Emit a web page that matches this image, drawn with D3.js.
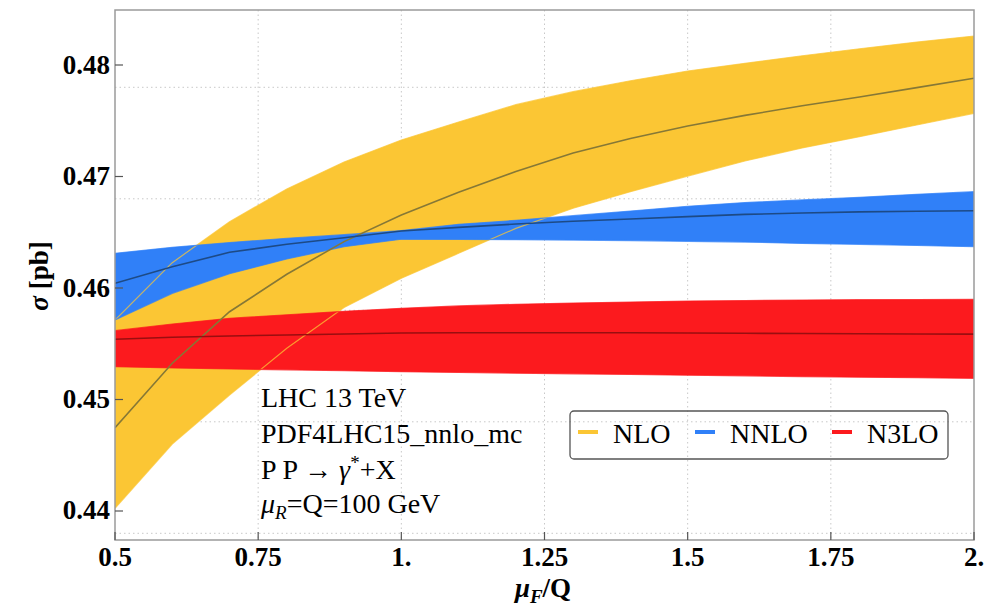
<!DOCTYPE html>
<html>
<head>
<meta charset="utf-8">
<script src="https://cdn.jsdelivr.net/npm/d3@7"></script>
<style>
  body { margin: 0; background: #fff; }
  svg { display: block; }
  text { font-family: "Liberation Serif", "Times New Roman", serif; fill: #000; }
</style>
</head>
<body>
<main></main>
<script>
const width = 1007;
const height = 611;
const plot = { left: 115, right: 974, top: 10, bottom: 540 };

// mu_F / Q sample points
const mu = [0.5, 0.6, 0.7, 0.8, 0.9, 1.0, 1.1, 1.2, 1.3, 1.4, 1.5, 1.6, 1.7, 1.8, 1.9, 2.0];

const nloCentral = [0.44747, 0.45325, 0.45787, 0.46123, 0.46416, 0.46655, 0.46858, 0.47045, 0.47210, 0.47340, 0.47453, 0.47548, 0.47634, 0.47713, 0.47797, 0.47881];
const nloUpper   = [0.45713, 0.46227, 0.46595, 0.46888, 0.47130, 0.47327, 0.47489, 0.47644, 0.47761, 0.47859, 0.47946, 0.48015, 0.48083, 0.48146, 0.48206, 0.48260];
const nloLower   = [0.44024, 0.44601, 0.45040, 0.45460, 0.45825, 0.46087, 0.46311, 0.46535, 0.46715, 0.46864, 0.47004, 0.47139, 0.47256, 0.47357, 0.47462, 0.47567];

const nnloCentral = [0.46042, 0.46191, 0.46320, 0.46392, 0.46451, 0.46511, 0.46544, 0.46574, 0.46598, 0.46619, 0.46640, 0.46660, 0.46673, 0.46683, 0.46689, 0.46693];
const nnloUpper   = [0.46311, 0.46365, 0.46407, 0.46446, 0.46478, 0.46514, 0.46571, 0.46607, 0.46649, 0.46690, 0.46733, 0.46766, 0.46790, 0.46813, 0.46840, 0.46864];
const nnloLower   = [0.45713, 0.45952, 0.46128, 0.46260, 0.46370, 0.46437, 0.46436, 0.46433, 0.46430, 0.46425, 0.46419, 0.46412, 0.46400, 0.46392, 0.46381, 0.46370];

const n3loCentral = [0.45540, 0.45558, 0.45570, 0.45578, 0.45587, 0.45596, 0.45598, 0.45599, 0.45599, 0.45598, 0.45596, 0.45594, 0.45592, 0.45590, 0.45588, 0.45586];
const n3loUpper   = [0.45617, 0.45677, 0.45728, 0.45760, 0.45791, 0.45818, 0.45839, 0.45854, 0.45865, 0.45874, 0.45883, 0.45888, 0.45892, 0.45895, 0.45897, 0.45899];
const n3loLower   = [0.45294, 0.45283, 0.45274, 0.45266, 0.45258, 0.45250, 0.45242, 0.45236, 0.45230, 0.45224, 0.45218, 0.45212, 0.45206, 0.45200, 0.45195, 0.45190];

const xTicks = [0.5, 0.75, 1.0, 1.25, 1.5, 1.75, 2.0];
const xTickLabels = ['0.5', '0.75', '1.', '1.25', '1.5', '1.75', '2.'];
const yTicks = [0.44, 0.45, 0.46, 0.47, 0.48];
const yTickLabels = ['0.44', '0.45', '0.46', '0.47', '0.48'];
const xGrid = [0.75, 1.0, 1.25, 1.5, 1.75];
const yGrid = [0.438, 0.448, 0.458, 0.468, 0.478];

const seriesNames = ['NLO', 'NNLO', 'N3LO'];
const fillColors = ['#fbc634', '#3080f8', '#fc1a1e'];
const lineColors = ['#867836', '#1d4a86', '#9a0e10'];

const series = [
    { central: nloCentral, upper: nloUpper, lower: nloLower },
    { central: nnloCentral, upper: nnloUpper, lower: nnloLower },
    { central: n3loCentral, upper: n3loUpper, lower: n3loLower }
];

const xScale = d3.scaleLinear().domain([0.5, 2.0]).range([plot.left, plot.right]);
const yScale = d3.scaleLinear().domain([0.437399, 0.484933]).range([plot.bottom, plot.top]);

const svg = d3.select('main')
              .append('svg')
              .attr('width', width)
              .attr('height', height);

svg.append('clipPath')
   .attr('id', 'clip')
   .append('rect')
   .attr('x', plot.left)
   .attr('y', plot.top)
   .attr('width', plot.right - plot.left)
   .attr('height', plot.bottom - plot.top);

// dotted grid
const grid = svg.append('g').attr('stroke', '#c8c8c8').attr('stroke-width', 1).attr('stroke-dasharray', '1.5,3');
grid.selectAll('.vgrid')
    .data(xGrid)
    .enter()
    .append('line')
    .attr('x1', (d) => xScale(d))
    .attr('x2', (d) => xScale(d))
    .attr('y1', plot.top)
    .attr('y2', plot.bottom);
grid.selectAll('.hgrid')
    .data(yGrid)
    .enter()
    .append('line')
    .attr('x1', plot.left)
    .attr('x2', plot.right)
    .attr('y1', (d) => yScale(d))
    .attr('y2', (d) => yScale(d));

const area = (s) => d3.area()
    .x((d, i) => xScale(mu[i]))
    .y0((d, i) => yScale(s.lower[i]))
    .y1((d, i) => yScale(s.upper[i]));

const line = d3.line()
    .x((d, i) => xScale(mu[i]))
    .y((d) => yScale(d));

const bands = svg.append('g').attr('clip-path', 'url(#clip)');

series.forEach((s, k) => {
    bands.append('path')
         .datum(s.central)
         .attr('d', area(s))
         .attr('fill', fillColors[k]);
});

// band edges, drawn over all fills
series.forEach((s, k) => {
    [s.upper, s.lower].forEach((edge) => {
        bands.append('path')
             .datum(edge)
             .attr('d', line)
             .attr('fill', 'none')
             .attr('stroke', fillColors[k])
             .attr('stroke-opacity', 0.75)
             .attr('stroke-width', 1.2);
    });
});

series.forEach((s, k) => {
    bands.append('path')
         .datum(s.central)
         .attr('d', line)
         .attr('fill', 'none')
         .attr('stroke', lineColors[k])
         .attr('stroke-width', 1.6);
});

// frame
svg.append('rect')
   .attr('x', plot.left)
   .attr('y', plot.top)
   .attr('width', plot.right - plot.left)
   .attr('height', plot.bottom - plot.top)
   .attr('fill', 'none')
   .attr('stroke', '#9a9a9a')
   .attr('stroke-width', 1.5);

// ticks (inward)
svg.selectAll('.xtick')
   .data(xTicks)
   .enter()
   .append('line')
   .attr('x1', (d) => xScale(d))
   .attr('x2', (d) => xScale(d))
   .attr('y1', plot.bottom)
   .attr('y2', plot.bottom - 8)
   .attr('stroke', '#555')
   .attr('stroke-width', 1.2);

svg.selectAll('.ytick')
   .data(yTicks)
   .enter()
   .append('line')
   .attr('x1', plot.left)
   .attr('x2', plot.left + 8)
   .attr('y1', (d) => yScale(d))
   .attr('y2', (d) => yScale(d))
   .attr('stroke', '#555')
   .attr('stroke-width', 1.2);

svg.selectAll('.xlabel')
   .data(xTicks)
   .enter()
   .append('text')
   .attr('x', (d) => xScale(d))
   .attr('y', 566)
   .attr('text-anchor', 'middle')
   .attr('font-size', 27)
   .attr('font-weight', 'bold')
   .text((d, i) => xTickLabels[i]);

svg.selectAll('.ylabel')
   .data(yTicks)
   .enter()
   .append('text')
   .attr('x', 110)
   .attr('y', (d) => yScale(d) + 8.5)
   .attr('text-anchor', 'end')
   .attr('font-size', 27)
   .attr('font-weight', 'bold')
   .text((d, i) => yTickLabels[i]);

// axis titles
const xTitle = svg.append('text')
   .attr('x', 543)
   .attr('y', 597)
   .attr('text-anchor', 'middle')
   .attr('font-size', 27)
   .attr('font-weight', 'bold');
xTitle.append('tspan').attr('font-style', 'italic').text('μ');
xTitle.append('tspan').attr('font-style', 'italic').attr('font-size', 19).attr('dy', 6).text('F');
xTitle.append('tspan').attr('dy', -6).text('/Q');

const yTitle = svg.append('text')
   .attr('transform', 'translate(48,276) rotate(-90)')
   .attr('text-anchor', 'middle')
   .attr('font-size', 27)
   .attr('font-weight', 'bold');
yTitle.append('tspan').attr('font-style', 'italic').text('σ');
yTitle.append('tspan').text(' [pb]');

// annotation
const note = svg.append('g').attr('font-size', 28);
note.append('text').attr('x', 261).attr('y', 407).text('LHC 13 TeV');
note.append('text').attr('x', 261).attr('y', 443).text('PDF4LHC15_nnlo_mc');
const proc = note.append('text').attr('x', 261).attr('y', 479);
proc.append('tspan').text('P P → ');
proc.append('tspan').attr('font-style', 'italic').text('γ');
proc.append('tspan').attr('font-size', 19).attr('dy', -10).text('*');
proc.append('tspan').attr('dy', 10).text('+X');
const scale = note.append('text').attr('x', 261).attr('y', 513);
scale.append('tspan').attr('font-style', 'italic').text('μ');
scale.append('tspan').attr('font-style', 'italic').attr('font-size', 19).attr('dy', 6).text('R');
scale.append('tspan').attr('dy', -6).text('=Q=100 GeV');

// legend
const legend = svg.append('g').attr('transform', 'translate(570,411)');
legend.append('rect')
      .attr('width', 378)
      .attr('height', 48)
      .attr('rx', 4)
      .attr('fill', 'none')
      .attr('stroke', '#555')
      .attr('stroke-width', 1.3);

const legendOffsets = [8, 125, 262];
const items = legend.selectAll('.item')
    .data(seriesNames)
    .enter()
    .append('g')
    .attr('transform', (d, i) => 'translate(' + legendOffsets[i] + ',0)');
items.append('line')
     .attr('x1', 0)
     .attr('x2', 20)
     .attr('y1', 21)
     .attr('y2', 21)
     .attr('stroke', (d, i) => fillColors[i])
     .attr('stroke-width', 4);
items.append('text')
     .attr('x', 35)
     .attr('y', 32)
     .attr('font-size', 28)
     .text((d) => d);
</script>
</body>
</html>
